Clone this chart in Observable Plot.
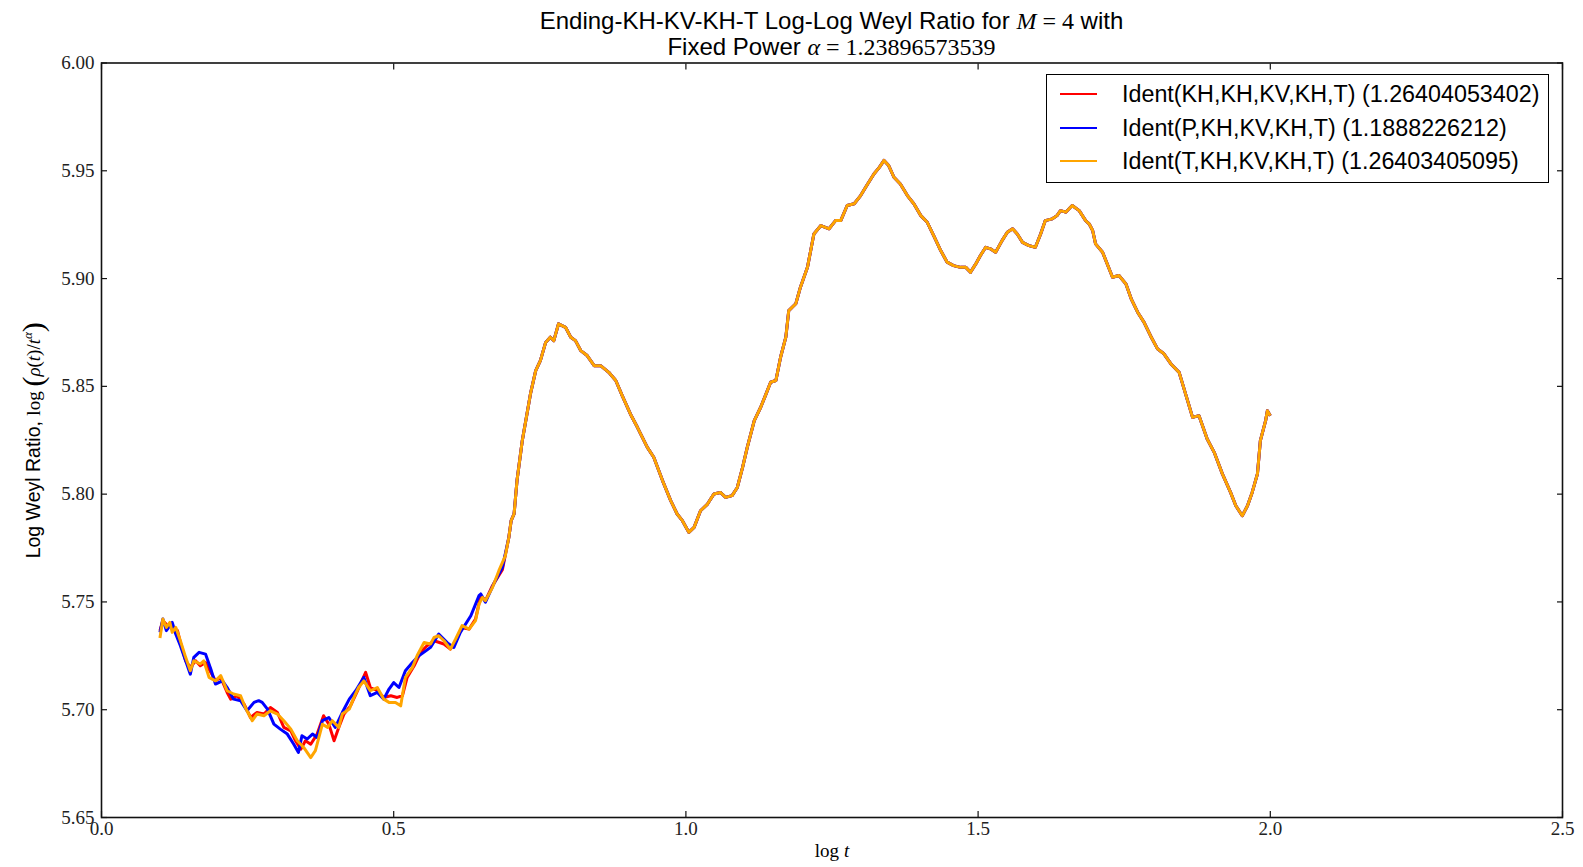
<!DOCTYPE html>
<html><head><meta charset="utf-8">
<script src="https://cdn.jsdelivr.net/npm/d3@7"></script>
<script src="https://cdn.jsdelivr.net/npm/@observablehq/plot@0.6"></script>
<style>
body{margin:0;background:#fff;}
#wrap{position:relative;width:1583px;height:867px;overflow:hidden;}
#title{position:relative;height:60px;width:1461px;margin-left:101px;text-align:center;font-family:"Liberation Sans",Arial,sans-serif;font-size:24px;line-height:26px;padding-top:8px;box-sizing:border-box;color:#000;}
.m{font-family:"Liberation Serif","Times New Roman",serif;}
.m i{font-style:italic;}
#chart svg{overflow:visible;display:block;}
#legend{position:absolute;left:1046px;top:74px;width:503px;height:109px;border:1.3px solid #000;background:#fff;box-sizing:border-box;font-family:"Liberation Sans",Arial,sans-serif;font-size:23.3px;}
.entry{position:absolute;left:0;height:30px;line-height:30px;white-space:nowrap;}
.sw{position:absolute;left:13px;top:14px;width:37px;height:0;border-top:2.5px solid;}
.lab{position:absolute;left:75px;top:0;}
</style></head>
<body><div id="wrap">
<div id="title"><div>Ending-KH-KV-KH-T Log-Log Weyl Ratio for <span class="m"><i>M</i> = 4</span> with</div><div>Fixed Power <span class="m"><i>α</i> = 1.23896573539</span></div></div>
<div id="chart"></div>
<div id="legend"></div>
</div>
<script>
const seriesNames = ["Ident(KH,KH,KV,KH,T) (1.26404053402)", "Ident(P,KH,KV,KH,T) (1.1888226212)", "Ident(T,KH,KV,KH,T) (1.26403405095)"];
const seriesColors = ["#ff0000", "#0000ff", "#ffa500"];
const xTicks = [0.0, 0.5, 1.0, 1.5, 2.0, 2.5];
const yTicks = [5.65, 5.70, 5.75, 5.80, 5.85, 5.90, 5.95, 6.00];

// early part (series differ)
const redX = [0.100,0.105,0.113,0.121,0.130,0.135,0.144,0.152,0.161,0.169,0.178,0.187,0.195,0.204,0.215,0.221,0.232,0.244,0.255,0.266,0.278,0.289,0.301,0.312,0.324,0.332,0.341,0.349,0.358,0.369,0.380,0.389,0.398,0.406,0.415,0.426,0.438,0.452,0.460,0.472,0.483,0.495,0.506,0.515,0.523,0.535,0.546,0.557,0.569,0.586,0.597,0.606,0.617,0.629,0.640,0.649,0.657,0.669,0.686];
const redY = [5.7367,5.7413,5.7390,5.7382,5.7367,5.7312,5.7227,5.7196,5.7227,5.7204,5.7219,5.7173,5.7134,5.7150,5.7080,5.7049,5.7065,5.7026,5.6964,5.6987,5.6980,5.7010,5.6987,5.6918,5.6902,5.6856,5.6817,5.6856,5.6840,5.6887,5.6972,5.6933,5.6856,5.6918,5.6980,5.7018,5.7088,5.7173,5.7103,5.7088,5.7057,5.7065,5.7057,5.7065,5.7150,5.7204,5.7266,5.7297,5.7320,5.7305,5.7281,5.7320,5.7380,5.7374,5.7420,5.7529,5.7506,5.7575,5.7650];
const blueX = [0.100,0.105,0.111,0.121,0.127,0.135,0.144,0.152,0.158,0.167,0.178,0.187,0.195,0.207,0.215,0.226,0.238,0.249,0.261,0.269,0.275,0.284,0.295,0.306,0.318,0.329,0.337,0.343,0.352,0.361,0.369,0.378,0.389,0.400,0.412,0.424,0.435,0.449,0.460,0.472,0.483,0.492,0.500,0.509,0.520,0.532,0.543,0.555,0.563,0.577,0.592,0.603,0.614,0.632,0.646,0.649,0.657,0.671,0.686];
const blueY = [5.7359,5.7421,5.7367,5.7405,5.7351,5.7297,5.7227,5.7165,5.7243,5.7266,5.7258,5.7189,5.7119,5.7134,5.7103,5.7049,5.7042,5.6995,5.7034,5.7042,5.7034,5.7003,5.6933,5.6910,5.6887,5.6840,5.6802,5.6879,5.6864,5.6887,5.6871,5.6949,5.6964,5.6918,5.6987,5.7049,5.7088,5.7150,5.7065,5.7080,5.7049,5.7096,5.7126,5.7103,5.7181,5.7219,5.7250,5.7273,5.7289,5.7351,5.7310,5.7289,5.7359,5.7436,5.7529,5.7537,5.7499,5.7583,5.7660];
const orangeX = [0.100,0.105,0.111,0.117,0.121,0.127,0.135,0.144,0.152,0.158,0.169,0.175,0.184,0.195,0.204,0.215,0.226,0.238,0.246,0.258,0.266,0.278,0.289,0.301,0.312,0.324,0.335,0.346,0.358,0.366,0.378,0.387,0.395,0.406,0.412,0.424,0.432,0.440,0.449,0.460,0.472,0.483,0.492,0.503,0.512,0.520,0.532,0.540,0.552,0.563,0.569,0.577,0.586,0.597,0.606,0.617,0.629,0.640,0.646,0.652,0.657,0.669,0.680,0.691];
const orangeY = [5.7333,5.7421,5.7382,5.7405,5.7359,5.7382,5.7320,5.7243,5.7181,5.7227,5.7212,5.7227,5.7150,5.7134,5.7158,5.7088,5.7073,5.7065,5.7010,5.6949,5.6980,5.6972,5.6995,5.6980,5.6949,5.6910,5.6856,5.6825,5.6778,5.6810,5.6933,5.6918,5.6949,5.6918,5.6980,5.7003,5.7057,5.7103,5.7134,5.7088,5.7103,5.7049,5.7034,5.7034,5.7018,5.7150,5.7196,5.7250,5.7312,5.7305,5.7335,5.7343,5.7320,5.7281,5.7328,5.7390,5.7374,5.7413,5.7490,5.7521,5.7506,5.7567,5.7645,5.7714];

// later part (all three series coincide)
const tailX = [0.697,0.701,0.706,0.711,0.720,0.729,0.734,0.743,0.751,0.760,0.768,0.774,0.782,0.794,0.803,0.811,0.820,0.831,0.843,0.854,0.868,0.880,0.891,0.905,0.917,0.934,0.945,0.960,0.974,0.985,0.994,1.005,1.014,1.025,1.037,1.048,1.059,1.068,1.079,1.088,1.097,1.105,1.117,1.128,1.136,1.145,1.154,1.162,1.171,1.176,1.188,1.196,1.208,1.219,1.231,1.245,1.256,1.265,1.276,1.288,1.299,1.311,1.322,1.331,1.339,1.347,1.356,1.367,1.379,1.390,1.402,1.413,1.424,1.436,1.447,1.458,1.470,1.479,1.487,1.496,1.504,1.513,1.521,1.530,1.541,1.550,1.559,1.567,1.576,1.587,1.598,1.607,1.615,1.627,1.635,1.641,1.650,1.661,1.673,1.684,1.690,1.696,1.701,1.713,1.730,1.741,1.753,1.762,1.773,1.784,1.795,1.807,1.818,1.830,1.844,1.855,1.867,1.878,1.892,1.904,1.918,1.932,1.941,1.952,1.961,1.969,1.978,1.983,1.992,1.995,2.000];
const tailY = [5.7799,5.7877,5.7908,5.8063,5.8248,5.8387,5.8465,5.8573,5.8619,5.8704,5.8728,5.8712,5.8790,5.8774,5.8728,5.8712,5.8666,5.8643,5.8596,5.8596,5.8565,5.8527,5.8457,5.8372,5.8310,5.8217,5.8171,5.8063,5.7970,5.7908,5.7877,5.7823,5.7846,5.7923,5.7954,5.8001,5.8008,5.7985,5.7993,5.8031,5.8124,5.8217,5.8341,5.8403,5.8457,5.8519,5.8527,5.8635,5.8728,5.8851,5.8883,5.8960,5.9052,5.9207,5.9246,5.9231,5.9269,5.9269,5.9339,5.9347,5.9385,5.9439,5.9486,5.9516,5.9548,5.9524,5.9470,5.9439,5.9385,5.9347,5.9292,5.9261,5.9199,5.9130,5.9076,5.9060,5.9052,5.9052,5.9029,5.9068,5.9107,5.9145,5.9138,5.9122,5.9176,5.9215,5.9231,5.9207,5.9168,5.9153,5.9145,5.9207,5.9269,5.9277,5.9292,5.9315,5.9308,5.9339,5.9315,5.9269,5.9254,5.9223,5.9161,5.9122,5.9006,5.9014,5.8975,5.8906,5.8844,5.8797,5.8735,5.8674,5.8651,5.8604,5.8565,5.8465,5.8356,5.8364,5.8256,5.8194,5.8094,5.8008,5.7946,5.7900,5.7946,5.8008,5.8094,5.8248,5.8341,5.8387,5.8364];

const early = [[redX, redY], [blueX, blueY], [orangeX, orangeY]];
const rows = [];
early.forEach(([xs, ys], i) => {
  xs.forEach((x, j) => rows.push({series: seriesNames[i], x, y: ys[j]}));
  tailX.forEach((x, j) => rows.push({series: seriesNames[i], x, y: tailY[j]}));
});

const serif = "'Liberation Serif','Times New Roman',serif";
const sans = "'Liberation Sans',Arial,sans-serif";
const xLabelText = "log t";
const yLabelText = "Log Weyl Ratio, log(ρ(t)/t^α)";

const chart = Plot.plot({
  width: 1583,
  height: 807,
  marginTop: 2.5,
  marginBottom: 50,
  marginLeft: 101,
  marginRight: 21,
  style: {background: "#fff", fontFamily: serif, fontSize: "19px", color: "#000", overflow: "visible"},
  x: {domain: [0, 2.5], ticks: xTicks, tickFormat: d3.format(".1f")},
  y: {domain: [5.65, 6.00], ticks: yTicks, tickFormat: d3.format(".2f")},
  color: {domain: seriesNames, range: seriesColors},
  marks: [
    Plot.lineY(rows, {x: "x", y: "y", z: "series", stroke: "series", strokeWidth: 3, strokeLinejoin: "round", strokeLinecap: "butt"}),
    Plot.frame({stroke: "#111", strokeWidth: 1.6}),
    Plot.axisX({anchor: "bottom", ticks: xTicks, tickSize: -6, stroke: "#111", strokeWidth: 1.2, text: null, label: null}),
    Plot.axisX({anchor: "top", ticks: xTicks, tickSize: -6, stroke: "#111", strokeWidth: 1.2, text: null, label: null}),
    Plot.axisY({anchor: "left", ticks: yTicks, tickSize: -6, stroke: "#111", strokeWidth: 1.2, text: null, label: null}),
    Plot.axisY({anchor: "right", ticks: yTicks, tickSize: -6, stroke: "#111", strokeWidth: 1.2, text: null, label: null}),
    Plot.axisX({anchor: "bottom", ticks: xTicks, tickSize: 0, tickPadding: 4, tickFormat: d3.format(".1f"), label: null, fill: "#222"}),
    Plot.axisY({anchor: "left", ticks: yTicks, tickSize: 0, tickPadding: 7, tickFormat: d3.format(".2f"), label: null, fill: "#222"}),
    Plot.text([xLabelText], {frameAnchor: "bottom", dy: 39, text: d => d, fontSize: 19}),
    Plot.text([yLabelText], {frameAnchor: "left", textAnchor: "middle", dx: -68, rotate: -90, text: d => d, fontSize: 19})
  ]
});
document.getElementById("chart").appendChild(chart);

// rich text for axis labels
const pick = s => d3.select(chart).selectAll("text").filter(function() { return this.textContent === s; });
const xl = pick(xLabelText);
xl.text(null);
xl.append("tspan").text("log ");
xl.append("tspan").attr("font-style", "italic").text("t");

const yl = pick(yLabelText);
yl.text(null);
yl.append("tspan").attr("font-family", sans).attr("font-size", 19.5).text("Log Weyl Ratio, ");
yl.append("tspan").text("log ");
yl.append("tspan").attr("font-size", 30).attr("dy", 3).text("(");
yl.append("tspan").attr("font-style", "italic").attr("dy", -3).text("ρ");
yl.append("tspan").text("(");
yl.append("tspan").attr("font-style", "italic").text("t");
yl.append("tspan").text(")/");
yl.append("tspan").attr("font-style", "italic").text("t");
yl.append("tspan").attr("font-style", "italic").attr("font-size", 13).attr("dy", -8).text("α");
yl.append("tspan").attr("font-size", 30).attr("dy", 11).text(")");

// legend
const legend = d3.select("#legend");
const tops = [4, 38, 71];
seriesNames.forEach((n, i) => {
  const e = legend.append("div").attr("class", "entry").style("top", tops[i] + "px");
  e.append("div").attr("class", "sw").style("border-top-color", seriesColors[i]);
  e.append("div").attr("class", "lab").text(n);
});
</script>
</body></html>
